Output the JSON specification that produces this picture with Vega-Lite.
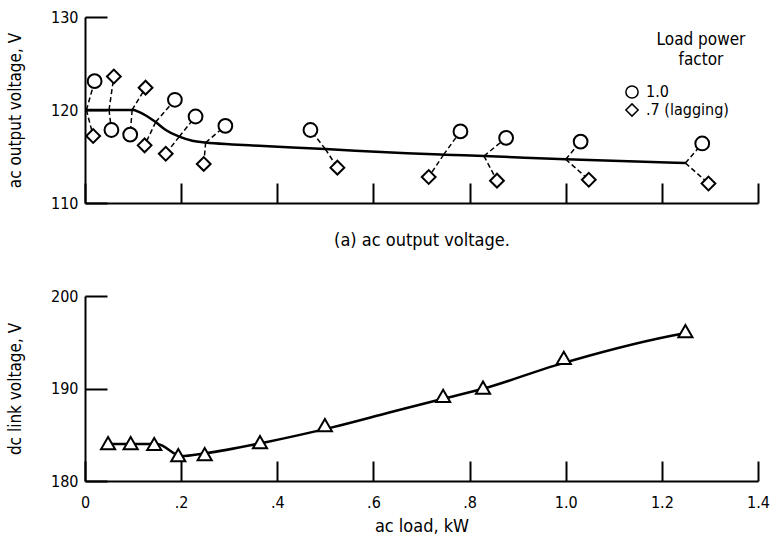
{
  "$schema": "https://vega.github.io/schema/vega-lite/v6.json",
  "padding": {"left": 6, "top": 9, "right": 5, "bottom": 2},
  "config": {
    "view": {"stroke": null},
    "font": "DejaVu Sans Condensed",
    "axis": {
      "domainColor": "black", "domainWidth": 2, "tickColor": "black", "tickWidth": 2,
      "labelColor": "black", "titleColor": "black", "labelFontSize": 16, "titleFontSize": 18,
      "titleFontWeight": "normal", "grid": false, "labelFlush": false
    }
  },
  "datasets": {
    "acCurve": [
      {"load": 0.0, "v": 120.0}, {"load": 0.05, "v": 120.0}, {"load": 0.1, "v": 120.0},
      {"load": 0.112, "v": 119.8}, {"load": 0.147, "v": 118.7}, {"load": 0.168, "v": 117.85},
      {"load": 0.196, "v": 117.13}, {"load": 0.223, "v": 116.7}, {"load": 0.251, "v": 116.5},
      {"load": 0.306, "v": 116.3}, {"load": 0.362, "v": 116.15}, {"load": 0.5, "v": 115.8},
      {"load": 0.67, "v": 115.35}, {"load": 0.746, "v": 115.2}, {"load": 0.83, "v": 115.05},
      {"load": 1.0, "v": 114.7}, {"load": 1.25, "v": 114.3}
    ],
    "acPts": [
      {"pf": "1.0", "load": 0.02, "v": 123.1, "ax": 0.003, "av": 120.0},
      {"pf": ".7 (lagging)", "load": 0.017, "v": 117.2, "ax": 0.003, "av": 120.0},
      {"pf": ".7 (lagging)", "load": 0.06, "v": 123.6, "ax": 0.05, "av": 120.0},
      {"pf": "1.0", "load": 0.055, "v": 117.85, "ax": 0.05, "av": 120.0},
      {"pf": ".7 (lagging)", "load": 0.126, "v": 122.4, "ax": 0.098, "av": 120.0},
      {"pf": "1.0", "load": 0.094, "v": 117.35, "ax": 0.098, "av": 120.0},
      {"pf": "1.0", "load": 0.187, "v": 121.1, "ax": 0.147, "av": 118.7},
      {"pf": ".7 (lagging)", "load": 0.124, "v": 116.2, "ax": 0.147, "av": 118.7},
      {"pf": "1.0", "load": 0.23, "v": 119.3, "ax": 0.196, "av": 117.13},
      {"pf": ".7 (lagging)", "load": 0.168, "v": 115.3, "ax": 0.196, "av": 117.13},
      {"pf": "1.0", "load": 0.292, "v": 118.3, "ax": 0.251, "av": 116.5},
      {"pf": ".7 (lagging)", "load": 0.247, "v": 114.2, "ax": 0.251, "av": 116.5},
      {"pf": "1.0", "load": 0.469, "v": 117.85, "ax": 0.5, "av": 115.8},
      {"pf": ".7 (lagging)", "load": 0.525, "v": 113.8, "ax": 0.5, "av": 115.8},
      {"pf": "1.0", "load": 0.781, "v": 117.7, "ax": 0.746, "av": 115.2},
      {"pf": ".7 (lagging)", "load": 0.715, "v": 112.8, "ax": 0.746, "av": 115.2},
      {"pf": "1.0", "load": 0.876, "v": 117.0, "ax": 0.83, "av": 115.05},
      {"pf": ".7 (lagging)", "load": 0.857, "v": 112.4, "ax": 0.83, "av": 115.05},
      {"pf": "1.0", "load": 1.031, "v": 116.6, "ax": 1.0, "av": 114.7},
      {"pf": ".7 (lagging)", "load": 1.048, "v": 112.5, "ax": 1.0, "av": 114.7},
      {"pf": "1.0", "load": 1.284, "v": 116.4, "ax": 1.249, "av": 114.3},
      {"pf": ".7 (lagging)", "load": 1.297, "v": 112.1, "ax": 1.249, "av": 114.3}
    ],
    "dcCurve": [
      {"load": 0.05, "v": 184.0}, {"load": 0.15, "v": 184.0}, {"load": 0.2, "v": 182.7},
      {"load": 0.25, "v": 183.0}, {"load": 0.376, "v": 184.2}, {"load": 0.514, "v": 185.8},
      {"load": 0.633, "v": 187.4}, {"load": 0.745, "v": 188.9}, {"load": 0.83, "v": 190.0},
      {"load": 0.979, "v": 192.5}, {"load": 1.22, "v": 195.7}, {"load": 1.25, "v": 196.0}
    ],
    "dcPts": [
      {"load": 0.048, "v": 184.1}, {"load": 0.095, "v": 184.1}, {"load": 0.144, "v": 184.0},
      {"load": 0.194, "v": 182.8}, {"load": 0.249, "v": 182.9}, {"load": 0.364, "v": 184.2},
      {"load": 0.499, "v": 186.05}, {"load": 0.745, "v": 189.2}, {"load": 0.828, "v": 190.1},
      {"load": 0.996, "v": 193.3}, {"load": 1.249, "v": 196.2}
    ]
  },
  "spacing": 39,
  "vconcat": [
    {
      "width": 673, "height": 186,
      "layer": [
        {
          "data": {"name": "acCurve"},
          "mark": {"type": "line", "color": "black", "strokeWidth": 2.5, "interpolate": "monotone"},
          "encoding": {
            "x": {"field": "load", "type": "quantitative", "scale": {"domain": [0, 1.4]},
                  "axis": {"values": [0, 0.2, 0.4, 0.6, 0.8, 1.0, 1.2, 1.4], "labels": false, "tickSize": -20,
                           "title": "(a) ac output voltage.", "titlePadding": 27}},
            "y": {"field": "v", "type": "quantitative", "scale": {"domain": [110, 130]},
                  "axis": {"values": [110, 120, 130], "tickSize": -22, "labelPadding": 29,
                           "title": "ac output voltage, V", "titleFontSize": 17, "titlePadding": 26}}
          }
        },
        {
          "data": {"name": "acPts"},
          "mark": {"type": "rule", "color": "black", "strokeWidth": 1.5, "strokeDash": [5, 3]},
          "encoding": {
            "x": {"field": "ax", "type": "quantitative"},
            "y": {"field": "av", "type": "quantitative"},
            "x2": {"field": "load"},
            "y2": {"field": "v"}
          }
        },
        {
          "data": {"name": "acPts"},
          "mark": {"type": "point", "filled": true, "fill": "white", "stroke": "black", "strokeWidth": 2, "size": 190, "opacity": 1},
          "encoding": {
            "x": {"field": "load", "type": "quantitative"},
            "y": {"field": "v", "type": "quantitative"},
            "shape": {"field": "pf", "type": "nominal",
                      "scale": {"domain": ["1.0", ".7 (lagging)"], "range": ["circle", "diamond"]},
                      "legend": {"title": ["Load power", "factor"], "orient": "none", "legendX": 572, "legendY": 15,
                                 "titleFontSize": 17, "titleFontWeight": "normal", "titleColor": "black",
                                 "titleAlign": "center", "titleAnchor": "middle", "titlePadding": 15, "titleLineHeight": 20,
                                 "labelFontSize": 16, "labelColor": "black", "labelOffset": 6,
                                 "symbolSize": 150, "rowPadding": -2, "symbolOffset": -50,
                                 "encode": {"symbols": {"update": {"fill": {"value": "white"}, "stroke": {"value": "black"},
                                            "strokeWidth": {"value": 2}, "opacity": {"value": 1}}}}}}
          }
        }
      ]
    },
    {
      "width": 673, "height": 185,
      "layer": [
        {
          "data": {"name": "dcCurve"},
          "mark": {"type": "line", "color": "black", "strokeWidth": 2.5, "interpolate": "monotone"},
          "encoding": {
            "x": {"field": "load", "type": "quantitative", "scale": {"domain": [0, 1.4]},
                  "axis": {"values": [0, 0.2, 0.4, 0.6, 0.8, 1.0, 1.2, 1.4], "tickSize": -20, "labelPadding": 33,
                           "labelExpr": "datum.value == 0 ? '0' : datum.value < 1 ? '.' + format(datum.value * 10, 'd') : format(datum.value, '.1f')",
                           "title": "ac load, kW", "titlePadding": 7}},
            "y": {"field": "v", "type": "quantitative", "scale": {"domain": [180, 200]},
                  "axis": {"values": [180, 190, 200], "tickSize": -22, "labelPadding": 29,
                           "title": "dc link voltage, V", "titleFontSize": 17, "titlePadding": 26}}
          }
        },
        {
          "data": {"name": "dcPts"},
          "mark": {"type": "point", "shape": "triangle-up", "filled": true, "fill": "white", "stroke": "black", "strokeWidth": 2, "size": 200, "opacity": 1},
          "encoding": {
            "x": {"field": "load", "type": "quantitative"},
            "y": {"field": "v", "type": "quantitative"}
          }
        }
      ]
    }
  ]
}
